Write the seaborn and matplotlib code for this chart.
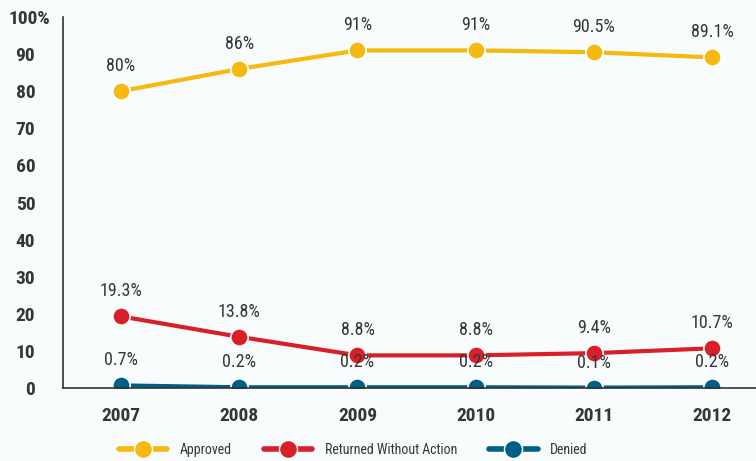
import matplotlib
matplotlib.use("Agg")
import matplotlib.pyplot as plt
import seaborn as sns
import pandas as pd
from matplotlib.lines import Line2D

years = [2007, 2008, 2009, 2010, 2011, 2012]
approved = [80, 86, 91, 91, 90.5, 89.1]
returned = [19.3, 13.8, 8.8, 8.8, 9.4, 10.7]
denied = [0.7, 0.2, 0.2, 0.2, 0.1, 0.2]
series_names = ["Approved", "Returned Without Action", "Denied"]
ytick_vals = [0, 10, 20, 30, 40, 50, 60, 70, 80, 90, 100]
ytick_labels = ["0", "10", "20", "30", "40", "50", "60", "70", "80", "90", "100%"]

colors = {"Approved": "#F5B90F", "Returned Without Action": "#D9202A", "Denied": "#005F86"}
bg = "#F8FCFD"
txt = "#363636"

sns.set_theme(style="white")
plt.rcParams["font.family"] = ["Roboto Condensed", "Roboto", "DejaVu Sans"]

df = pd.DataFrame({
    "Year": years * 3,
    "Value": approved + returned + denied,
    "Series": [series_names[0]] * 6 + [series_names[1]] * 6 + [series_names[2]] * 6,
})

fig = plt.figure(figsize=(7.56, 4.61), dpi=100, facecolor=bg)
ax = fig.add_axes([63 / 756, (461 - 388) / 461, 1 - 63 / 756, (388 - 17) / 461])
ax.set_facecolor(bg)

sns.lineplot(data=df, x="Year", y="Value", hue="Series", palette=colors,
             hue_order=series_names, marker="o", markersize=12.5, linewidth=3,
             markeredgecolor="white", markeredgewidth=1.2, ax=ax, legend=False)

for name, vals in zip(series_names, [approved, returned, denied]):
    for x, v in zip(years, vals):
        lab = f"{v:g}%"
        ax.annotate(lab, (x, v), xytext=(0, 11.5), textcoords="offset points",
                    ha="center", va="bottom", fontsize=13, color=txt)

ax.set_xlim(2006.51, 2012.37)
ax.set_ylim(0, 100)
ax.set_xticks(years)
ax.set_xticklabels([str(y) for y in years], fontsize=14, color=txt, fontweight="bold")
ax.set_yticks(ytick_vals)
ax.set_yticklabels(ytick_labels, fontsize=14, color=txt, fontweight="bold")
ax.tick_params(axis="both", length=0)
ax.tick_params(axis="x", pad=14)
ax.tick_params(axis="y", pad=20)
yticks = ax.yaxis.get_major_ticks()
yticks[-1].set_pad(9)
ax.set_xlabel("")
ax.set_ylabel("")
for s in ["top", "right"]:
    ax.spines[s].set_visible(False)
for s in ["left", "bottom"]:
    ax.spines[s].set_color("#333333")
    ax.spines[s].set_linewidth(1.2)

handles = [Line2D([0], [0], color=colors[n], lw=4, marker="o", markersize=13,
                  markeredgecolor="white", markeredgewidth=1) for n in series_names]
fig.legend(handles, series_names, loc="center", bbox_to_anchor=(0.467, 0.024),
           ncol=3, frameon=False, fontsize=10, handlelength=3.5, columnspacing=2.3,
           labelcolor=txt, handletextpad=0.9)

fig.savefig("out.png", dpi=100, facecolor=bg)
